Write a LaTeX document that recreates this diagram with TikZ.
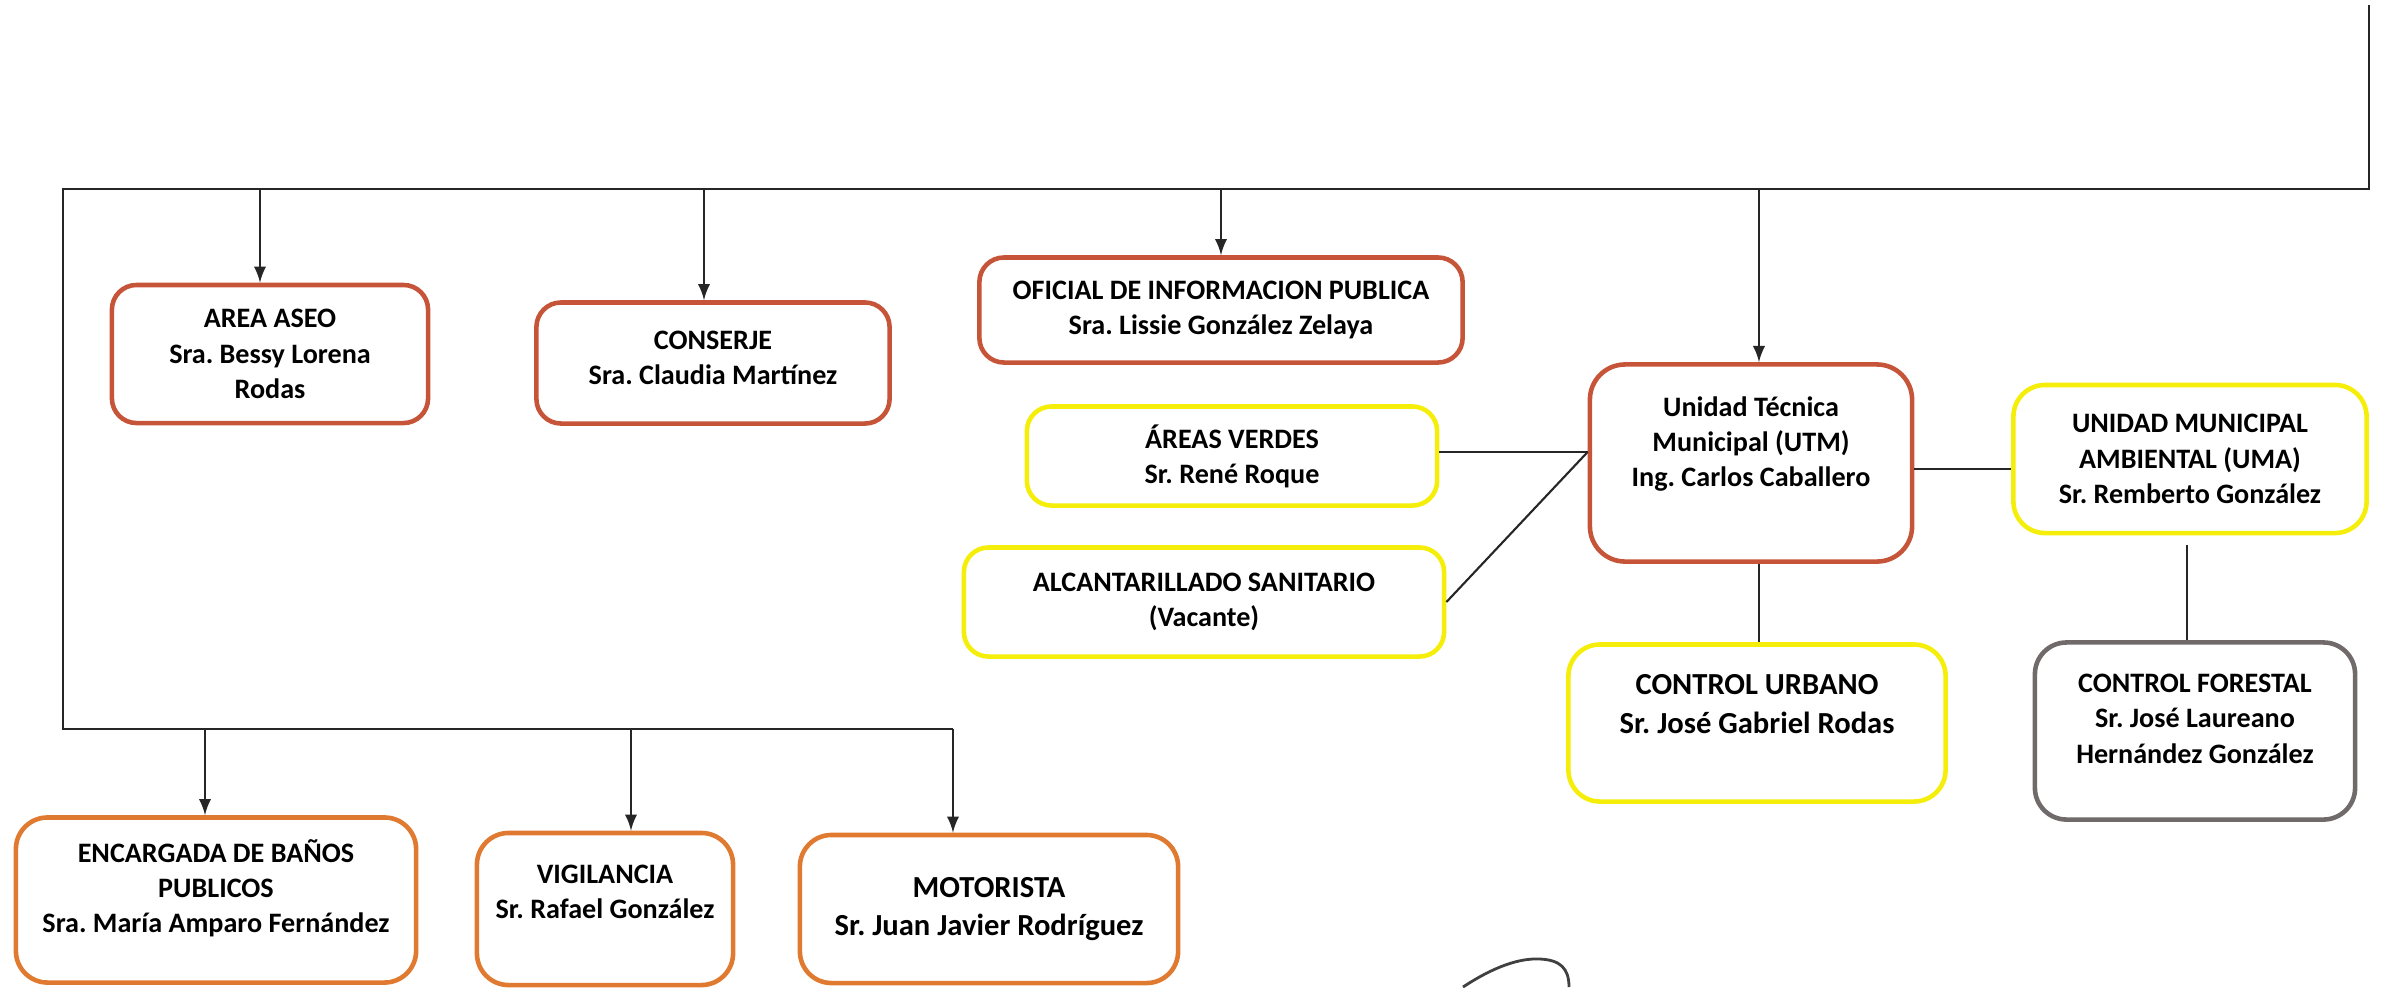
\documentclass[tikz,border=0pt]{standalone}
\usepackage{fontspec}
\setmainfont{Carlito}
\usepackage{tikz}
\frenchspacing
\definecolor{rojizo}{RGB}{198,84,56}
\definecolor{amarillo}{RGB}{245,238,10}
\definecolor{naranja}{RGB}{224,122,48}
\definecolor{grisoscuro}{RGB}{112,106,106}
\newcommand{\letranormal}{\fontsize{8}{10}\selectfont\bfseries}
\newcommand{\letragrande}{\fontsize{8.7}{11}\selectfont\bfseries}
\newcommand{\relleno}[1]{\rule[-#1]{0pt}{#1}} % sube el texto en la caja
\tikzset{
  Caja/.style={draw, rounded corners=7pt, line width=1.3pt, align=center, font=\letranormal, inner sep=2pt},
  CajaR/.style={Caja, draw=rojizo},     % cajas rojas
  CajaA/.style={Caja, draw=amarillo},   % cajas amarillas
  CajaN/.style={Caja, draw=naranja},    % cajas naranjas
  CajaG/.style={Caja, draw=grisoscuro}, % caja gris
  Linea/.style={line width=0.6pt, black!85},
  Flecha/.style={Linea, ->}
}
\begin{document}
\begin{tikzpicture}[x=0.01cm, y=-0.01cm,
>=latex % puntas de flecha
]
\useasboundingbox (0,0) rectangle (2384,987);

%Puntos de las lineas
\coordinate (tt) at (2369,5);
\coordinate (tr) at (2369,189);
\coordinate (tl) at (63,189);
\coordinate (bl) at (63,729);
\coordinate (br) at (953,729);

%Cajas arriba
\node[CajaR, minimum width=3.16cm, minimum height=1.38cm] (aseo) at (270,354)
  {AREA ASEO\\Sra. Bessy Lorena\\Rodas};
\node[CajaR, minimum width=3.53cm, minimum height=1.21cm] (conserje) at (713,363)
  {CONSERJE\\Sra. Claudia Martínez\relleno{3pt}};
\node[CajaR, minimum width=4.83cm, minimum height=1.05cm] (oficial) at (1221,310)
  {OFICIAL DE INFORMACION PUBLICA\\Sra. Lissie González Zelaya};

%Unidad tecnica
\node[CajaR, minimum width=3.22cm, minimum height=1.97cm, rounded corners=10pt] (utm) at (1751,463)
  {Unidad Técnica\\Municipal (UTM)\\Ing. Carlos Caballero\relleno{12pt}};
\node[CajaA, minimum width=4.10cm, minimum height=0.99cm] (verdes) at (1232,456)
  {ÁREAS VERDES\\Sr. René Roque};
\node[CajaA, minimum width=4.80cm, minimum height=1.09cm] (alcantarillado) at (1204,602)
  {ALCANTARILLADO SANITARIO\\(Vacante)};
\node[CajaA, minimum width=3.53cm, minimum height=1.48cm, rounded corners=9pt] (uma) at (2190,459)
  {UNIDAD MUNICIPAL\\AMBIENTAL (UMA)\\Sr. Remberto González};
\node[CajaA, minimum width=3.77cm, minimum height=1.57cm, rounded corners=9pt, font=\letragrande] (urbano) at (1757,723)
  {CONTROL URBANO\\Sr. José Gabriel Rodas\relleno{11pt}};
\node[CajaG, minimum width=3.20cm, minimum height=1.77cm, rounded corners=9pt] (forestal) at (2195,731)
  {CONTROL FORESTAL\\Sr. José Laureano\\Hernández González\relleno{7pt}};

%Cajas abajo
\node[CajaN, minimum width=4.00cm, minimum height=1.65cm, rounded corners=9pt] (banos) at (216,900)
  {ENCARGADA DE BAÑOS\\PUBLICOS\\Sra. María Amparo Fernández\relleno{8pt}};
\node[CajaN, minimum width=2.56cm, minimum height=1.52cm, rounded corners=9pt] (vigilancia) at (605,909)
  {VIGILANCIA\\Sr. Rafael González\relleno{10pt}};
\node[CajaN, minimum width=3.78cm, minimum height=1.48cm, rounded corners=9pt, font=\letragrande] (motorista) at (989,909)
  {MOTORISTA\\Sr. Juan Javier Rodríguez};

%Lineas
\draw[Linea] (tt) -- (tr) -- (tl) -- (bl) -- (br);

%Flechas
\draw[Flecha] ([xshift=-0.1cm]aseo.north |- tl) -- ([xshift=-0.1cm]aseo.north);
\draw[Flecha] ([xshift=-0.09cm]conserje.north |- tl) -- ([xshift=-0.09cm]conserje.north);
\draw[Flecha] (oficial.north |- tl) -- (oficial.north);
\draw[Flecha] ([xshift=0.08cm]utm.north |- tl) -- ([xshift=0.08cm]utm.north);
\draw[Flecha] ([xshift=-0.11cm]banos.north |- bl) -- ([xshift=-0.11cm]banos.north);
\draw[Flecha] ([xshift=0.26cm]vigilancia.north |- bl) -- ([xshift=0.26cm]vigilancia.north);
\draw[Flecha] (br) -- (br |- motorista.north);

%Conexiones de la UTM
\coordinate (nudo) at ([yshift=0.11cm]utm.west);
\draw[Linea] (verdes.east |- nudo) -- (nudo);
\draw[Linea] (alcantarillado.east) -- (nudo);
\draw[Linea] ([yshift=-0.06cm]utm.east) -- ([yshift=-0.06cm]utm.east -| uma.west);
\draw[Linea] ([xshift=0.08cm]utm.south) -- ([xshift=0.08cm]utm.south |- urbano.north);
\draw[Linea] ([yshift=-0.1cm,xshift=-0.03cm]uma.south) -- ([xshift=-0.03cm]uma.south |- forestal.north);

%Firma
\draw[line width=0.8pt, black!75] (1463,987) .. controls (1495,966) and (1520,958) .. (1540,959)
  .. controls (1560,960) and (1569,968) .. (1569,987);
\end{tikzpicture}
\end{document}
